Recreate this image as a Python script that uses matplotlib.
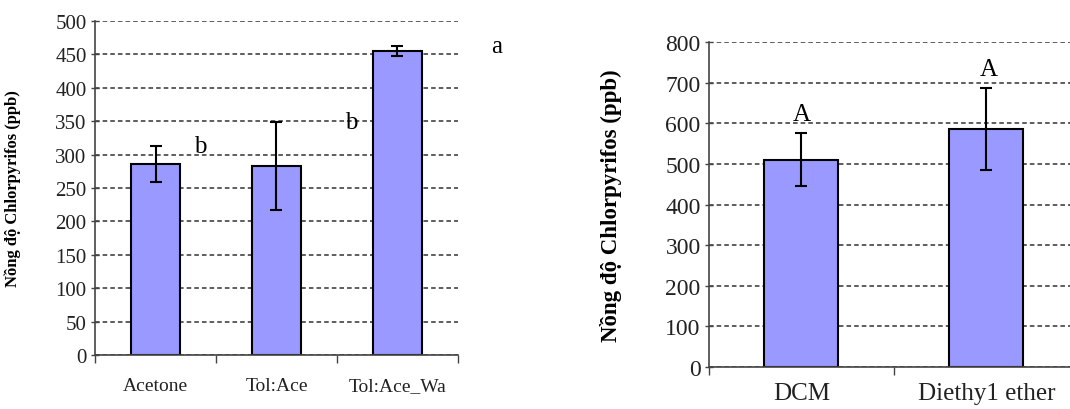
import matplotlib
matplotlib.use("Agg")
import matplotlib.pyplot as plt
import numpy as np

# left chart data
left_cats = ["Acetone", "Tol:Ace", "Tol:Ace_Wa"]
left_vals = [286, 283, 455]
left_err = [27, 66, 8]
left_letters = ["b", "b", "a"]
left_letter_x = [0.37, 1.62, 2.82]
left_letter_y = [313, 349, 462]

# right chart data
right_cats = ["DCM", "Diethy1 ether"]
right_vals = [510, 586]
right_err = [65, 100]
right_letters = ["A", "A"]
right_letter_x = [0.0, 1.01]
right_letter_y = [623, 733]

SERIF = ["Liberation Serif", "DejaVu Serif"]
plt.rcParams["font.family"] = SERIF

fig = plt.figure(figsize=(10.7, 4.1), dpi=100)
ax1 = fig.add_axes([0.0888, 0.1317, 0.3392, 0.8146])
ax2 = fig.add_axes([0.6626, 0.1024, 0.3458, 0.7927])


def draw(ax, cats, vals, err, ymax, ystep, tick_fs, label_fs, ylab_fs, xpad):
    x = np.arange(len(cats))
    ax.set_axisbelow(True)
    ax.yaxis.grid(True, linestyle=(0, (3, 2)), color="#333333", linewidth=1.1)
    ax.bar(x, vals, width=0.4, color="#9999FF", edgecolor="black", linewidth=1.5,
           yerr=err, error_kw=dict(ecolor="black", elinewidth=1.5, capsize=4, capthick=1.5))
    ax.set_xlim(-0.5, len(cats) - 0.5)
    ax.set_ylim(0, ymax)
    yt = np.arange(0, ymax + 1, ystep)
    ax.set_yticks(yt)
    ax.set_yticklabels([str(v) for v in yt], fontsize=tick_fs, family=SERIF, color="#222222")
    ax.set_xticks(x)
    ax.set_xticklabels(cats, fontsize=label_fs, family=SERIF, color="#222222")
    ax.set_xticks(np.arange(len(cats) + 1) - 0.5, minor=True)
    ax.tick_params(axis="x", which="major", length=0, pad=xpad)
    ax.tick_params(axis="x", which="minor", length=6, width=1, color="#444444", direction="out")
    ax.tick_params(axis="y", length=6, width=1, color="#444444", direction="inout", pad=3)
    for s in ["top", "right"]:
        ax.spines[s].set_visible(False)
    for s in ["left", "bottom"]:
        ax.spines[s].set_color("#444444")
        ax.spines[s].set_linewidth(1.2)
    ax.set_ylabel("Nồng độ Chlorpyrifos (ppb)", fontsize=ylab_fs, fontweight="bold")


draw(ax1, left_cats, left_vals, left_err, 500, 50, 15, 14, 12, 16)
ax1.yaxis.set_label_coords(-0.205, 0.5)
for lx, ly, t in zip(left_letter_x, left_letter_y, left_letters):
    ax1.text(lx, ly, t, fontsize=18, ha="center", va="center", clip_on=False)

draw(ax2, right_cats, right_vals, right_err, 800, 100, 17, 18, 16.5, 11)
ax2.yaxis.set_label_coords(-0.235, 0.5)
for lx, ly, t in zip(right_letter_x, right_letter_y, right_letters):
    ax2.text(lx, ly, t, fontsize=18, ha="center", va="center")

fig.savefig("out.png", dpi=100)
